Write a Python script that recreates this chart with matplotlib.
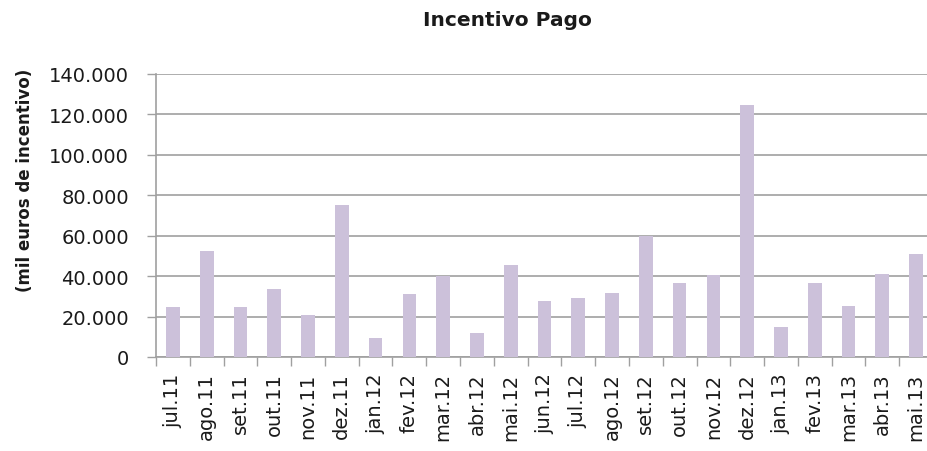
import matplotlib
matplotlib.use("Agg")
import matplotlib.pyplot as plt
import numpy as np

categories = ["jul.11", "ago.11", "set.11", "out.11", "nov.11", "dez.11", "jan.12",
              "fev.12", "mar.12", "abr.12", "mai.12", "jun.12", "jul.12", "ago.12",
              "set.12", "out.12", "nov.12", "dez.12", "jan.13", "fev.13", "mar.13",
              "abr.13", "mai.13"]
values = [24800, 52600, 24800, 33700, 21000, 75400, 9600, 31000, 39900, 12000,
          45700, 27900, 29200, 31700, 59900, 36800, 40600, 124900, 14700, 36800,
          25400, 41300, 50800]
yticks = [0, 20000, 40000, 60000, 80000, 100000, 120000, 140000]
ytick_labels = ["0", "20.000", "40.000", "60.000", "80.000", "100.000", "120.000", "140.000"]

W, H = 928, 452
fig = plt.figure(figsize=(W / 100, H / 100), dpi=100)
left, right, top, bottom = 156, 933, 75, 358
ax = fig.add_axes([left / W, 1 - bottom / H, (right - left) / W, (bottom - top) / H])

x = np.arange(len(categories))
ax.bar(x, values, width=0.405, color="#CCC1DA", zorder=3)

grid_c = "#A0A0A0"
ax.set_xlim(-0.5, len(categories) - 0.5)
ax.set_ylim(0, 140000)
ax.set_yticks(yticks)
ax.set_yticklabels(ytick_labels)
ax.yaxis.grid(True, color=grid_c, linewidth=1.2, zorder=0)
ax.set_axisbelow(True)

ax.set_xticks(x)
ax.set_xticklabels(categories, rotation=90, va="top", ha="center")
ax.set_xticks(np.arange(len(categories) + 1) - 0.5, minor=True)
ax.tick_params(axis="x", which="major", length=0, pad=11, labelsize=14, labelcolor="#1a1a1a")
ax.tick_params(axis="x", which="minor", length=6.5, width=1.0, color=grid_c, direction="out")
ax.tick_params(axis="y", which="major", length=6.5, width=1.0, color=grid_c, pad=13,
               labelsize=14, labelcolor="#1a1a1a")

for s in ["top", "right"]:
    ax.spines[s].set_visible(False)
ax.spines["left"].set_color(grid_c)
ax.spines["left"].set_linewidth(1.2)
ax.spines["bottom"].set_color(grid_c)
ax.spines["bottom"].set_linewidth(1.2)

fig.text(507 / W, 1 - 20 / H, "Incentivo Pago", ha="center", va="center",
         fontsize=14.5, fontweight="bold", color="#1a1a1a")
fig.text(25 / W, 1 - 180 / H, "(mil euros de incentivo)", ha="center", va="center",
         rotation=90, fontsize=12, fontweight="bold", color="#1a1a1a")

fig.savefig("out.png", dpi=100)
